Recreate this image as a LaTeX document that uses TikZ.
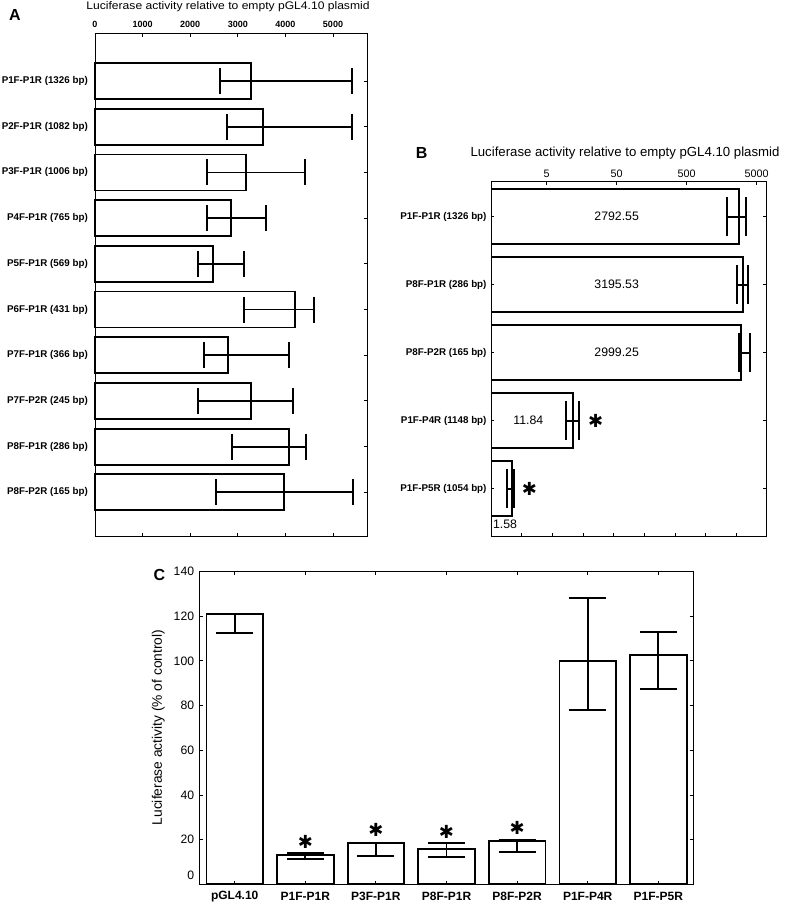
\documentclass[tikz,border=0pt]{standalone}
\usepackage{fontspec}
\setmainfont{Liberation Sans}
\newfontfamily\symfont{DejaVu Sans}
\usepackage{tikz}

\begin{document}
\begin{tikzpicture}[x=1pt,y=-1pt,
	frame/.style={line width=0.9pt},
	bar/.style={line width=1.8pt},
	err/.style={line width=1.8pt},
	panel/.style={font=\fontsize{16}{18}\selectfont\bfseries,inner sep=0pt},
	barlabel/.style={font=\fontsize{9.8}{11}\selectfont\bfseries,anchor=east,inner sep=0pt},
	star/.style={font=\fontsize{18}{18}\selectfont\symfont,inner sep=0pt}]
	\useasboundingbox (0,0) rectangle (787,903);
	\def \ax {95};
	\def \asc {0.0476};
	\def \bx {497.8};
	\def \bsc {70};
	\def \cy {884.3};
	\def \csc {2.234};

	%A
	\node[panel] (pa) at (15,15) {A};
	\node[font=\fontsize{11}{13}\selectfont] (ta) at (228,6.6) {\scalebox{1.1}[1]{Luciferase activity relative to empty pGL4.10 plasmid}};
	\draw[frame] (95,33.3) rectangle (367.5,536.7);
	\foreach \k/\t in {0/0,1/1000,2/2000,3/3000,4/4000,5/5000}{
		\node[font=\fontsize{9}{10}\selectfont\bfseries,inner sep=0pt] (xa\k) at ({\ax+47.6*\k},24.7) {\t};
		\draw[frame] ({\ax+47.6*\k},33.3) -- ++(0,3.5);
		\draw[frame] ({\ax+47.6*\k},536.7) -- ++(0,-3.5);
	}
	\foreach \i/\lab/\v/\lo/\hi in {0/{P1F-P1R (1326 bp)}/3277/2626/5391,
		1/{P2F-P1R (1082 bp)}/3523/2766/5391,
		2/{P3F-P1R (1006 bp)}/3172/2360/4412,
		3/{P4F-P1R (765 bp)}/2850/2360/3592,
		4/{P5F-P1R (569 bp)}/2472/2171/3130,
		5/{P6F-P1R (431 bp)}/4202/3130/4601,
		6/{P7F-P1R (366 bp)}/2787/2290/4069,
		7/{P7F-P2R (245 bp)}/3277/2157/4167,
		8/{P8F-P1R (286 bp)}/4083/2871/4426,
		9/{P8F-P2R (165 bp)}/3971/2535/5412}{
		\pgfmathsetmacro\yc{81+45.7*\i}
		\node[barlabel] (la\i) at (88,\yc) {\lab};
		\draw[bar] (\ax,\yc-18) rectangle ({\ax+\asc*\v},\yc+18);
		\draw[err] ({\ax+\asc*\lo},\yc) -- ({\ax+\asc*\hi},\yc);
		\draw[err] ({\ax+\asc*\lo},\yc-13) -- ++(0,26);
		\draw[err] ({\ax+\asc*\hi},\yc-13) -- ++(0,26);
		\draw[frame] (367.5,\yc) -- ++(-3.5,0);
	}

	%B
	\node[panel] (pb) at (421.7,152.7) {B};
	\node[font=\fontsize{13.2}{15}\selectfont] (tb) at (625,153.3) {Luciferase activity relative to empty pGL4.10 plasmid};
	\draw[frame] (491.5,181.5) rectangle (766.7,536.7);
	\foreach \t in {5,50,500,5000}{
		\node[font=\fontsize{10.8}{12}\selectfont,inner sep=0pt] (xb\t) at ({\bx+\bsc*log10(\t)},174.2) {\t};
		\draw[frame] ({\bx+\bsc*log10(\t)},181.5) -- ++(0,3.5);
	}
	\foreach \k in {0,...,7}
		\draw[frame] ({521.7+30.7*\k},536.7) -- ++(0,-3.5);
	\foreach \i/\lab/\v/\lo/\hi in {0/{P1F-P1R (1326 bp)}/2792.55/1900/3510,
		1/{P8F-P1R (286 bp)}/3195.53/2588/3715,
		2/{P8F-P2R (165 bp)}/2999.25/2790/4007,
		3/{P1F-P4R (1148 bp)}/11.84/9.43/14.6,
		4/{P1F-P5R (1054 bp)}/1.58/1.37/1.70}{
		\pgfmathsetmacro\yc{216.7+68*\i}
		\node[barlabel] (lb\i) at (486.7,\yc) {\lab};
		\draw[bar] (491.5,\yc-27.5) rectangle ({\bx+\bsc*log10(\v)},\yc+27.5);
		\draw[err] ({\bx+\bsc*log10(\lo)},\yc) -- ({\bx+\bsc*log10(\hi)},\yc);
		\draw[err] ({\bx+\bsc*log10(\lo)},\yc-19.5) -- ++(0,39);
		\draw[err] ({\bx+\bsc*log10(\hi)},\yc-19.5) -- ++(0,39);
		\draw[frame] (766.7,\yc) -- ++(-3.5,0);
		\draw[frame] (491.5,\yc) -- ++(2.5,0);
	}
	\foreach \i/\t/\px/\py in {0/2792.55/616.7/216.7,1/3195.53/616.7/284.7,2/2999.25/616.7/352.7,3/11.84/528.3/420.7,4/1.58/505/524.3}
		\node[font=\fontsize{12.3}{14}\selectfont,inner sep=0pt] (vb\i) at (\px,\py) {\t};
	\node[star] (sb3) at (595.7,421) {✱};
	\node[star] (sb4) at (529.3,489) {✱};

	%C
	\node[panel] (pc) at (159.3,575) {C};
	\node[font=\fontsize{13.8}{15}\selectfont,rotate=90] (ylc) at (158.3,727.5) {Luciferase activity (\% of control)};
	\draw[frame] (199.3,571.7) rectangle (693.3,884.3);
	\foreach \t in {20,40,...,140}{
		\node[font=\fontsize{12.2}{14}\selectfont,anchor=east,inner sep=0pt] (yc\t) at (194.3,{\cy-\csc*\t}) {\t};
		\draw[frame] (199.3,{\cy-\csc*\t}) -- ++(3.5,0);
		\draw[frame] (693.3,{\cy-\csc*\t}) -- ++(-3.5,0);
	}
	\node[font=\fontsize{12.2}{14}\selectfont,anchor=east,inner sep=0pt] (yc0) at (194.3,875.5) {0};
	\foreach \i/\lab/\v/\lo/\hi in {0/pGL4.10/120.9/112.4/120.9,
		1/P1F-P1R/13.1/11.2/13.9,
		2/P3F-P1R/18.4/12.8/18.4,
		3/P8F-P1R/15.8/12.4/18.6,
		4/P8F-P2R/19.4/14.3/19.8,
		5/P1F-P4R/100/78.0/128.3,
		6/P1F-P5R/102.6/87.4/112.8}{
		\pgfmathsetmacro\xc{234.7+70.6*\i}
		\node[font=\fontsize{12}{14}\selectfont\bfseries,inner sep=0pt] (xc\i) at (\xc,896.7) {\lab};
		\draw[bar] (\xc-28.3,\cy) rectangle (\xc+28.3,{\cy-\csc*\v});
		\draw[err] (\xc,{\cy-\csc*\lo}) -- (\xc,{\cy-\csc*\hi});
		\draw[err] (\xc-18.5,{\cy-\csc*\lo}) -- ++(37,0);
		\draw[err] (\xc-18.5,{\cy-\csc*\hi}) -- ++(37,0);
		\draw[frame] (\xc,571.7) -- ++(0,3.5);
		\draw[frame] (\xc,884.3) -- ++(0,-3.5);
	}
	\foreach \i/\py in {1/841.7,2/830,3/831.7,4/828.3}
		\node[star] (sc\i) at ({234.7+70.6*\i},\py) {✱};
\end{tikzpicture}
\end{document}
